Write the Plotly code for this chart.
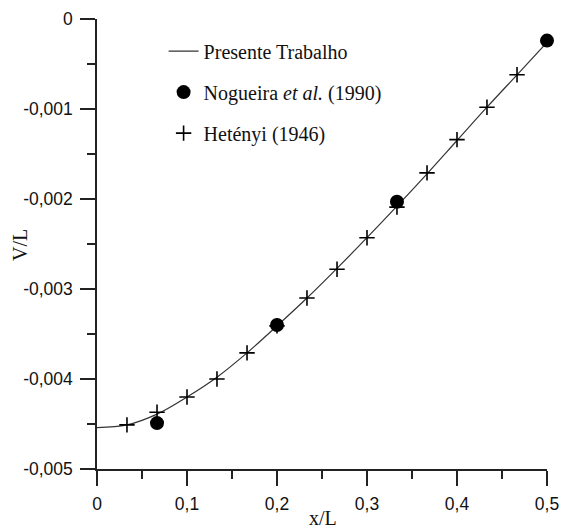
import plotly.graph_objects as go

# Presente Trabalho (solid line)
line_x = [0, 0.0333, 0.0667, 0.1, 0.1333, 0.1667, 0.2, 0.2333, 0.2667, 0.3,
          0.3333, 0.3667, 0.4, 0.4333, 0.4667, 0.5]
line_y = [-0.00454, -0.00451, -0.00439, -0.00420, -0.00398, -0.00371, -0.00341,
          -0.00310, -0.00277, -0.00243, -0.00208, -0.00172, -0.00135, -0.00098,
          -0.00062, -0.00026]

# Nogueira et al. (1990)
nog_x = [0.0667, 0.2, 0.3333, 0.5]
nog_y = [-0.00449, -0.00340, -0.00203, -0.00024]

# Hetényi (1946)
het_x = [0.0333, 0.0667, 0.1, 0.1333, 0.1667, 0.2, 0.2333, 0.2667, 0.3, 0.3333,
         0.3667, 0.4, 0.4333, 0.4667]
het_y = [-0.00451, -0.00437, -0.00420, -0.00400, -0.00371, -0.00341, -0.00310,
         -0.00278, -0.00243, -0.00209, -0.00171, -0.00134, -0.00098, -0.00062]

x_ticks = [0, 0.1, 0.2, 0.3, 0.4, 0.5]
x_labels = ["0", "0,1", "0,2", "0,3", "0,4", "0,5"]
y_ticks = [0, -0.001, -0.002, -0.003, -0.004, -0.005]
y_labels = ["0", "-0,001", "-0,002", "-0,003", "-0,004", "-0,005"]

fig = go.Figure()
fig.add_trace(go.Scatter(x=line_x, y=line_y, mode="lines", name="Presente Trabalho",
                         line=dict(color="#333333", width=1.2, shape="spline"),
                         legendgroup="a", cliponaxis=False))
fig.add_trace(go.Scatter(x=nog_x, y=nog_y, mode="markers",
                         name="Nogueira <i>et al.</i> (1990)",
                         marker=dict(symbol="circle", size=14, color="black"),
                         legendgroup="b", cliponaxis=False))
fig.add_trace(go.Scatter(x=het_x, y=het_y, mode="markers", name="Hetényi (1946)",
                         marker=dict(symbol="cross-thin", size=11,
                                     line=dict(color="black", width=1.6)),
                         legendgroup="c", cliponaxis=False))

axis_common = dict(showgrid=False, zeroline=False, showline=True, linecolor="#222222",
                   linewidth=1.5, ticks="outside", ticklen=15, tickwidth=1.5,
                   tickcolor="#222222", automargin=False,
                   tickfont=dict(family="Liberation Sans, Arial", size=17.5, color="#111111"))

title_font = dict(family="Liberation Serif, Times New Roman", size=20, color="#111111")

fig.update_xaxes(range=[0, 0.5], tickvals=x_ticks, ticktext=x_labels,
                 minor=dict(ticks="outside", ticklen=8, tickwidth=1.5, tickcolor="#222222",
                            tickvals=[0.05, 0.15, 0.25, 0.35, 0.45]),
                 ticklabelstandoff=3,
                 **axis_common)
fig.update_yaxes(range=[-0.005, 0], tickvals=y_ticks, ticktext=y_labels,
                 minor=dict(ticks="outside", ticklen=8, tickwidth=1.5, tickcolor="#222222",
                            tickvals=[-0.0005, -0.0015, -0.0025, -0.0035, -0.0045]),
                 ticklabelstandoff=4,
                 **axis_common)

fig.add_annotation(text="x/L", xref="paper", yref="paper", x=0.502, y=-0.1355,
                   xanchor="center", yanchor="bottom", showarrow=False, font=title_font,
                   borderpad=0)
fig.add_annotation(text="V/L", xref="paper", yref="paper", x=-0.171, y=0.498,
                   xanchor="center", yanchor="middle", textangle=-90, showarrow=False,
                   font=title_font)

fig.update_layout(
    width=561, height=531,
    margin=dict(l=97, r=14, t=19, b=62),
    plot_bgcolor="white", paper_bgcolor="white",
    showlegend=True,
    legend=dict(x=0.148, y=0.972, xanchor="left", yanchor="top",
                bgcolor="rgba(0,0,0,0)", tracegroupgap=12,
                font=dict(family="Liberation Serif, Times New Roman", size=20, color="#111111")),
)

fig.write_html("out.html")
